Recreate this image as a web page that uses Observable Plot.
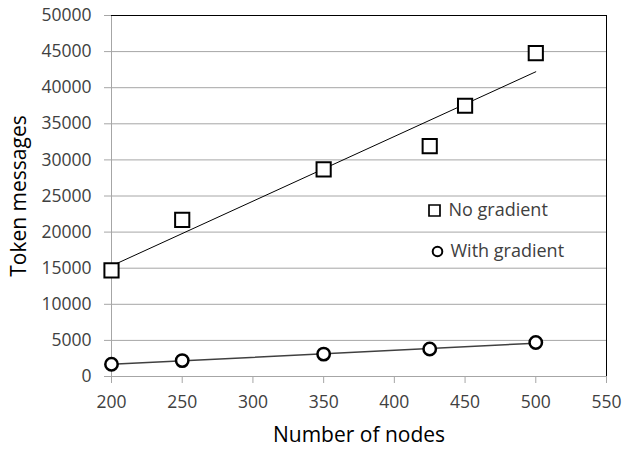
<!DOCTYPE html>
<html><head>
<meta charset="utf-8">
<script src="https://cdn.jsdelivr.net/npm/d3@7"></script>
<script src="https://cdn.jsdelivr.net/npm/@observablehq/plot@0.6"></script>
<style>
body{margin:0;background:#fff}
svg{font-family:"Open Sans",sans-serif}
</style>
</head><body><div id="chart"></div>
<script>
// Data
const squareNodes = [200, 250, 350, 425, 450, 500];
const noGradient = [14700, 21700, 28700, 31900, 37500, 44800];
const circleNodes = [200, 250, 350, 425, 500];
const withGradient = [1700, 2200, 3100, 3800, 4700];
const xTicks = [200, 250, 300, 350, 400, 450, 500, 550];
const yTicks = [0, 5000, 10000, 15000, 20000, 25000, 30000, 35000, 40000, 45000, 50000];
const seriesNames = ["No gradient", "With gradient"];

const sq = squareNodes.map((n, i) => ({nodes: n, msgs: noGradient[i]}));
const ci = circleNodes.map((n, i) => ({nodes: n, msgs: withGradient[i]}));

const gray = "#a6a6a6";
const textCol = "#404040";

const chart = Plot.plot({
  width: 624,
  height: 449,
  marginLeft: 111,
  marginRight: 18,
  marginTop: 15,
  marginBottom: 73,
  style: {fontFamily: "Open Sans, sans-serif", background: "#fff", overflow: "visible"},
  x: {domain: [200, 550]},
  y: {domain: [0, 50000]},
  marks: [
    Plot.gridY(yTicks, {stroke: gray, strokeOpacity: 1}),
    Plot.axisY(yTicks, {tickSize: 7, tickPadding: 13, tickFormat: "d", stroke: gray, fill: textCol, fontSize: 17.5, label: null}),
    Plot.axisX(xTicks, {tickSize: 7, tickPadding: 12, tickFormat: "d", stroke: gray, fill: textCol, fontSize: 17.5, label: null}),
    Plot.ruleX([200], {stroke: gray}),
    Plot.ruleY([0], {stroke: gray}),
    Plot.ruleY([50000], {stroke: "#000"}),
    Plot.ruleX([550], {stroke: "#000"}),
    Plot.linearRegressionY(sq, {x: "nodes", y: "msgs", ci: 0, stroke: "#000", strokeWidth: 1}),
    Plot.linearRegressionY(ci, {x: "nodes", y: "msgs", ci: 0, stroke: "#404040", strokeWidth: 1.5}),
    Plot.dot(sq, {x: "nodes", y: "msgs", symbol: "square", r: 8, stroke: "#000", strokeWidth: 2, fill: "#fff"}),
    Plot.dot(ci, {x: "nodes", y: "msgs", symbol: "circle", r: 6.2, stroke: "#000", strokeWidth: 2.5, fill: "#fff"}),
    // legend
    Plot.dot([seriesNames[0]], {frameAnchor: "top-left", dx: 323, dy: 195, symbol: "square", r: 6.2, stroke: "#000", strokeWidth: 1.7, fill: "#fff"}),
    Plot.text([seriesNames[0]], {frameAnchor: "top-left", dx: 337, dy: 195, text: d => d, textAnchor: "start", lineAnchor: "middle", fontSize: 18, fill: textCol}),
    Plot.dot([seriesNames[1]], {frameAnchor: "top-left", dx: 326, dy: 236, symbol: "circle", r: 4.8, stroke: "#000", strokeWidth: 2, fill: "#fff"}),
    Plot.text([seriesNames[1]], {frameAnchor: "top-left", dx: 339, dy: 236, text: d => d, textAnchor: "start", lineAnchor: "middle", fontSize: 18, fill: textCol}),
    // axis titles
    Plot.text(["Number of nodes"], {frameAnchor: "bottom", dy: 59, text: d => d, fontSize: 21, fill: "#000", textAnchor: "middle", lineAnchor: "middle"}),
    Plot.text(["Token messages"], {frameAnchor: "left", dx: -92, dy: 0, text: d => d, rotate: -90, fontSize: 21, fill: "#000", textAnchor: "middle", lineAnchor: "middle"})
  ]
});
document.getElementById("chart").appendChild(chart);
</script>
</body></html>
